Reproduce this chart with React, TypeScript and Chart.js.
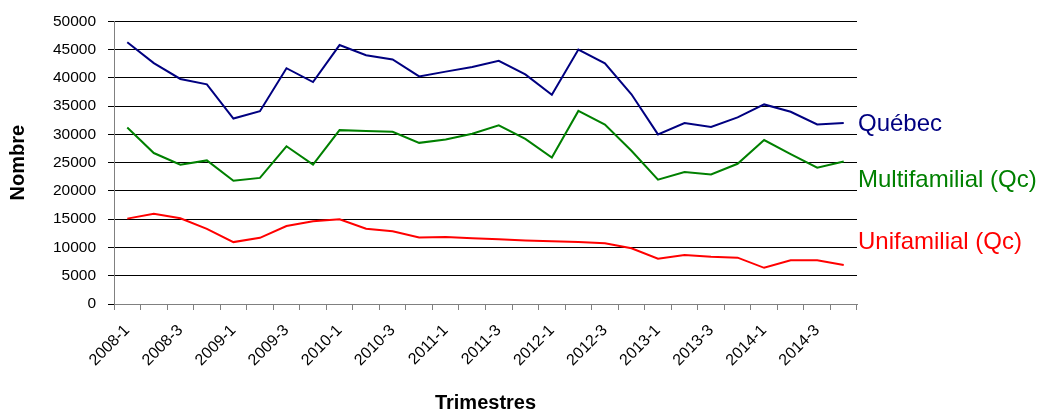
import React, { useEffect, useRef } from "react";
import { Chart, registerables } from "chart.js";

Chart.register(...registerables);

const quarters = [
  "2008-1", "2008-2", "2008-3", "2008-4",
  "2009-1", "2009-2", "2009-3", "2009-4",
  "2010-1", "2010-2", "2010-3", "2010-4",
  "2011-1", "2011-2", "2011-3", "2011-4",
  "2012-1", "2012-2", "2012-3", "2012-4",
  "2013-1", "2013-2", "2013-3", "2013-4",
  "2014-1", "2014-2", "2014-3", "2014-4",
];

const quebec = [
  46300, 42600, 39800, 38850, 32800, 34100, 41700, 39250, 45800, 44000, 43250, 40250, 41100, 41900,
  43000, 40600, 37000, 45000, 42550, 37100, 30000, 32000, 31300, 33000, 35300, 34000, 31750, 32000,
];

const multifamilial = [
  31200, 26700, 24650, 25400, 21800, 22300, 27900, 24650, 30750, 30600, 30450, 28500, 29100, 30100,
  31600, 29200, 25900, 34150, 31750, 27100, 22000, 23350, 22900, 24800, 29000, 26500, 24100, 25200,
];

const unifamilial = [
  15100, 15950, 15150, 13300, 10950, 11700, 13800, 14650, 15000, 13300, 12850, 11750, 11850, 11650,
  11450, 11250, 11100, 10950, 10750, 9850, 8000, 8650, 8350, 8200, 6400, 7750, 7750, 6900,
];

const seriesNames = ["Québec", "Multifamilial (Qc)", "Unifamilial (Qc)"];
const seriesColors = ["#000080", "#008000", "#FF0000"];
const seriesNameAnchors = [31700, 21800, 10900];

const FONT = 'Arial, "Liberation Sans", sans-serif';

const sideLabels = {
  id: "sideLabels",
  afterDraw(chart: any) {
    const { ctx, chartArea, scales } = chart;
    ctx.save();
    ctx.font = `24px ${FONT}`;
    ctx.textAlign = "left";
    ctx.textBaseline = "middle";
    seriesNames.forEach((name, i) => {
      ctx.fillStyle = seriesColors[i];
      ctx.fillText(name, chartArea.right + 1, scales.y.getPixelForValue(seriesNameAnchors[i]));
    });
    ctx.restore();
  },
};

export default function App() {
  const ref = useRef<HTMLCanvasElement>(null);

  useEffect(() => {
    if (!ref.current) return;
    const series = [quebec, multifamilial, unifamilial];
    const chart = new Chart(ref.current, {
      type: "line",
      data: {
        labels: quarters,
        datasets: series.map((d, i) => ({
          label: seriesNames[i],
          data: d,
          borderColor: seriesColors[i],
          backgroundColor: seriesColors[i],
          borderWidth: 2,
          pointRadius: 0,
          tension: 0,
          fill: false,
        })),
      },
      options: {
        animation: false,
        responsive: false,
        maintainAspectRatio: false,
        layout: { padding: { top: 20, right: 180, left: 0, bottom: 0 } },
        plugins: {
          legend: { display: false },
          tooltip: { enabled: false },
        },
        scales: {
          x: {
            type: "category",
            offset: true,
            grid: {
              offset: true,
              drawOnChartArea: false,
              drawTicks: true,
              tickLength: 6,
              color: "#808080",
            },
            border: { display: true, color: "#808080", width: 1 },
            ticks: {
              autoSkip: false,
              minRotation: 45,
              maxRotation: 45,
              padding: 11,
              color: "#000",
              font: { family: FONT, size: 16 },
              callback: (_v: any, i: number) => (i % 2 === 0 ? quarters[i] : ""),
            },
            title: {
              display: true,
              text: "Trimestres",
              color: "#000",
              font: { family: FONT, size: 20, weight: "bold", lineHeight: 1 },
              padding: { top: 0, bottom: 0 },
            },
            afterFit: (s: any) => {
              s.height = 109;
            },
          },
          y: {
            min: 0,
            max: 50000,
            grid: {
              color: "#000",
              lineWidth: 1,
              drawTicks: true,
              tickLength: 6,
            },
            border: { display: true, color: "#808080", width: 1 },
            ticks: {
              stepSize: 5000,
              padding: 12,
              color: "#000",
              font: { family: FONT, size: 15.5 },
              callback: (v: any) => String(v),
            },
            title: {
              display: true,
              text: "Nombre",
              color: "#000",
              font: { family: FONT, size: 20, weight: "bold", lineHeight: 1 },
              padding: { top: 8, bottom: 0 },
            },
            afterFit: (s: any) => {
              s.width = 114;
            },
          },
        },
      },
      plugins: [sideLabels],
    });
    return () => chart.destroy();
  }, []);

  return (
    <div style={{ position: "absolute", left: 0, top: 0, width: 1037, height: 413, background: "#fff" }}>
      <canvas ref={ref} width={1037} height={413} style={{ display: "block" }} />
    </div>
  );
}
